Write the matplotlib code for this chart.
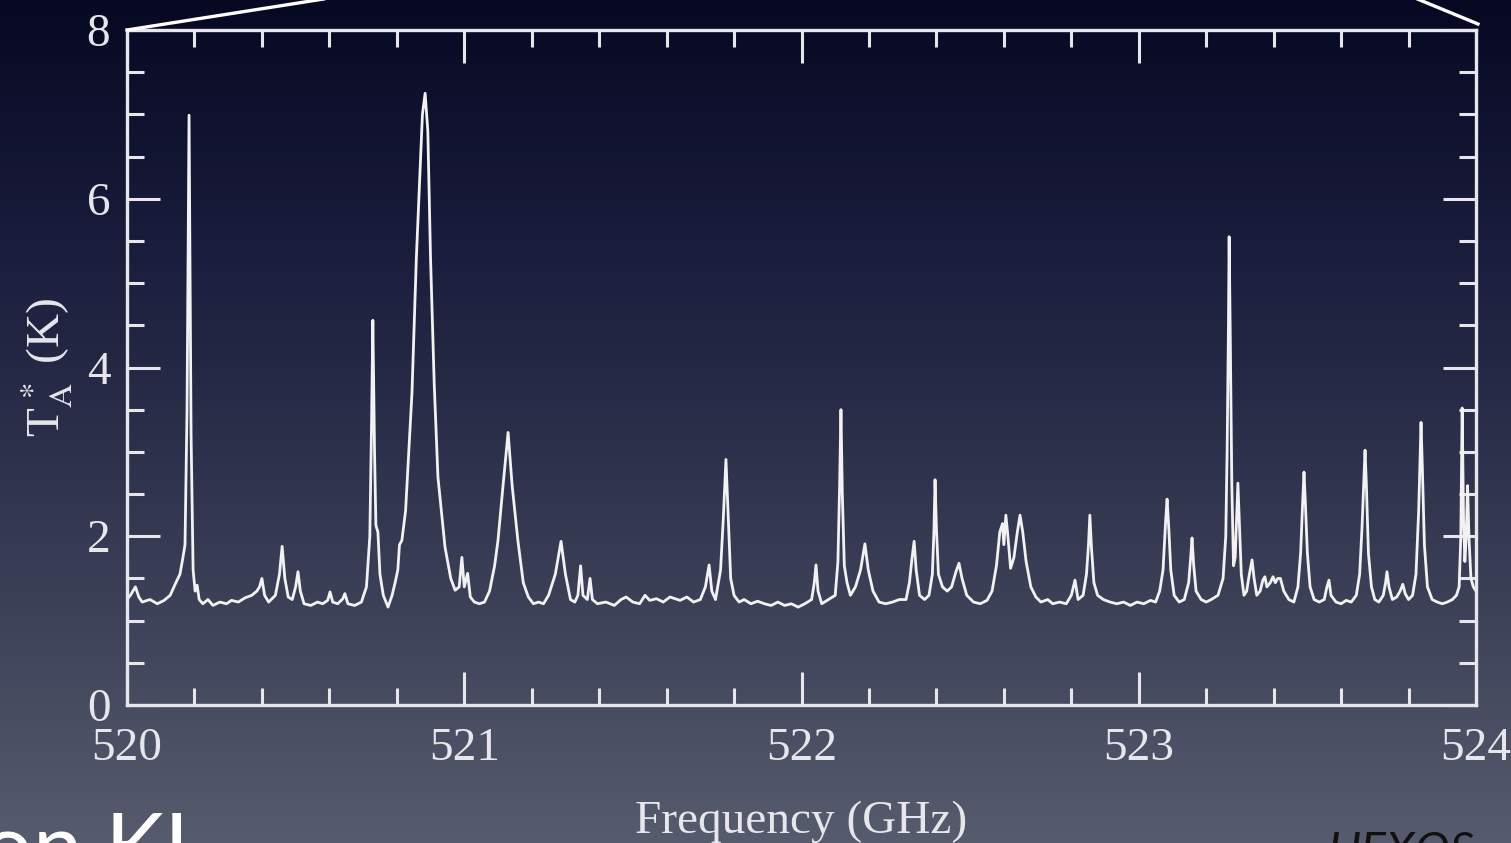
import matplotlib
matplotlib.use("Agg")
import matplotlib.pyplot as plt
import numpy as np
from matplotlib.lines import Line2D
from matplotlib.colors import LinearSegmentedColormap
from matplotlib.ticker import MultipleLocator

# spectrum (GHz, K)
freq = [
    520.000, 520.010, 520.025, 520.035, 520.045, 520.068, 520.090, 520.110, 520.128, 520.145,
    520.157, 520.166, 520.172, 520.178, 520.184, 520.190, 520.196, 520.202, 520.208, 520.214,
    520.225, 520.240, 520.255, 520.275, 520.295, 520.310, 520.330, 520.350, 520.370, 520.385,
    520.393, 520.400, 520.408, 520.420, 520.440, 520.452, 520.460, 520.468, 520.478, 520.490,
    520.500, 520.507, 520.514, 520.525, 520.545, 520.565, 520.580, 520.595, 520.602, 520.610,
    520.625, 520.640, 520.646, 520.655, 520.675, 520.695, 520.710, 520.720, 520.725, 520.729,
    520.734, 520.738, 520.744, 520.750, 520.760, 520.774, 520.786, 520.795, 520.803, 520.808,
    520.815, 520.826, 520.845, 520.858, 520.876, 520.884, 520.892, 520.900, 520.911, 520.922,
    520.943, 520.960, 520.973, 520.985, 520.993, 521.000, 521.010, 521.018, 521.030, 521.045,
    521.060, 521.075, 521.090, 521.100, 521.115, 521.130, 521.142, 521.159, 521.175, 521.190,
    521.205, 521.220, 521.235, 521.250, 521.270, 521.287, 521.300, 521.315, 521.328, 521.337,
    521.345, 521.352, 521.365, 521.373, 521.380, 521.395, 521.420, 521.445, 521.465, 521.480,
    521.500, 521.520, 521.536, 521.550, 521.570, 521.590, 521.610, 521.625, 521.640, 521.660,
    521.680, 521.700, 521.715, 521.726, 521.734, 521.745, 521.760, 521.768, 521.776, 521.783,
    521.790, 521.800, 521.815, 521.830, 521.850, 521.870, 521.890, 521.910, 521.930, 521.950,
    521.970, 521.990, 522.010, 522.030, 522.038, 522.043, 522.049, 522.060, 522.080, 522.100,
    522.108, 522.113, 522.117, 522.121, 522.127, 522.135, 522.145, 522.160, 522.175, 522.188,
    522.198, 522.212, 522.230, 522.250, 522.270, 522.290, 522.310, 522.320, 522.328, 522.334,
    522.340, 522.350, 522.365, 522.378, 522.388, 522.393, 522.396, 522.400, 522.406, 522.418,
    522.432, 522.445, 522.458, 522.467, 522.476, 522.490, 522.510, 522.530, 522.550, 522.565,
    522.578, 522.588, 522.596, 522.600, 522.606, 522.612, 522.620, 522.630, 522.640, 522.648,
    522.656, 522.666, 522.680, 522.695, 522.710, 522.730, 522.745, 522.765, 522.785, 522.800,
    522.811, 522.820, 522.835, 522.845, 522.851, 522.855, 522.860, 522.867, 522.878, 522.895,
    522.915, 522.935, 522.955, 522.975, 522.995, 523.015, 523.035, 523.050, 523.062, 523.072,
    523.076, 523.080, 523.084, 523.089, 523.095, 523.105, 523.120, 523.135, 523.148, 523.154,
    523.158, 523.163, 523.170, 523.185, 523.200, 523.215, 523.235, 523.250, 523.258, 523.262,
    523.266, 523.268, 523.271, 523.276, 523.281, 523.286, 523.290, 523.294, 523.298, 523.304,
    523.312, 523.320, 523.328, 523.336, 523.342, 523.350, 523.360, 523.368, 523.374, 523.380,
    523.390, 523.398, 523.405, 523.412, 523.420, 523.430, 523.445, 523.460, 523.472, 523.480,
    523.486, 523.490, 523.494, 523.500, 523.508, 523.520, 523.535, 523.550, 523.558, 523.564,
    523.570, 523.585, 523.600, 523.615, 523.630, 523.645, 523.655, 523.662, 523.668, 523.671,
    523.675, 523.681, 523.690, 523.700, 523.712, 523.725, 523.732, 523.736, 523.742, 523.752,
    523.765, 523.775, 523.783, 523.790, 523.800, 523.812, 523.822, 523.830, 523.834, 523.837,
    523.841, 523.847, 523.856, 523.870, 523.885, 523.900, 523.915, 523.930, 523.942, 523.950,
    523.955, 523.959, 523.963, 523.967, 523.971, 523.975, 523.979, 523.985, 523.992, 524.000,
]
temp = [
    1.25, 1.30, 1.40, 1.28, 1.22, 1.25, 1.20, 1.24, 1.30, 1.45,
    1.55, 1.75, 1.90, 3.50, 6.99, 3.20, 1.60, 1.35, 1.42, 1.25,
    1.20, 1.25, 1.18, 1.22, 1.20, 1.24, 1.22, 1.27, 1.30, 1.35,
    1.40, 1.50, 1.30, 1.22, 1.30, 1.55, 1.88, 1.50, 1.28, 1.25,
    1.40, 1.58, 1.35, 1.20, 1.18, 1.22, 1.20, 1.24, 1.34, 1.22,
    1.20, 1.26, 1.32, 1.20, 1.18, 1.22, 1.40, 2.00, 3.30, 4.56,
    3.00, 2.13, 2.05, 1.55, 1.30, 1.16, 1.30, 1.45, 1.60, 1.90,
    1.95, 2.30, 3.70, 5.30, 7.00, 7.25, 6.80, 5.30, 3.80, 2.70,
    1.87, 1.50, 1.36, 1.40, 1.75, 1.40, 1.56, 1.28, 1.22, 1.20,
    1.22, 1.35, 1.65, 1.95, 2.60, 3.23, 2.60, 1.95, 1.45, 1.28,
    1.20, 1.22, 1.20, 1.30, 1.55, 1.94, 1.55, 1.25, 1.22, 1.30,
    1.65, 1.30, 1.25, 1.50, 1.25, 1.20, 1.22, 1.18, 1.25, 1.28,
    1.22, 1.20, 1.30, 1.24, 1.26, 1.22, 1.28, 1.26, 1.24, 1.28,
    1.22, 1.25, 1.40, 1.66, 1.35, 1.25, 1.60, 2.20, 2.91, 2.20,
    1.50, 1.30, 1.22, 1.25, 1.20, 1.23, 1.20, 1.18, 1.22, 1.18,
    1.20, 1.16, 1.20, 1.25, 1.45, 1.66, 1.35, 1.20, 1.25, 1.30,
    1.70, 2.60, 3.50, 2.50, 1.65, 1.45, 1.30, 1.40, 1.60, 1.91,
    1.60, 1.35, 1.22, 1.20, 1.22, 1.25, 1.25, 1.45, 1.75, 1.94,
    1.60, 1.30, 1.25, 1.30, 1.55, 2.10, 2.67, 2.10, 1.55, 1.40,
    1.35, 1.40, 1.58, 1.68, 1.50, 1.30, 1.22, 1.20, 1.24, 1.35,
    1.65, 2.05, 2.15, 1.90, 2.25, 2.00, 1.62, 1.75, 2.05, 2.25,
    2.05, 1.70, 1.40, 1.28, 1.22, 1.25, 1.20, 1.22, 1.20, 1.30,
    1.48, 1.25, 1.30, 1.55, 1.90, 2.25, 1.85, 1.45, 1.30, 1.25,
    1.22, 1.20, 1.22, 1.18, 1.22, 1.20, 1.24, 1.22, 1.35, 1.60,
    1.90, 2.20, 2.44, 2.10, 1.60, 1.30, 1.22, 1.25, 1.45, 1.75,
    1.98, 1.65, 1.35, 1.25, 1.22, 1.25, 1.30, 1.50, 2.00, 3.00,
    4.50, 5.55, 4.50, 2.60, 1.65, 1.75, 2.20, 2.63, 2.20, 1.55,
    1.30, 1.35, 1.55, 1.72, 1.50, 1.30, 1.35, 1.48, 1.52, 1.40,
    1.45, 1.52, 1.45, 1.50, 1.50, 1.35, 1.25, 1.22, 1.40, 1.80,
    2.40, 2.76, 2.40, 1.80, 1.40, 1.25, 1.22, 1.25, 1.40, 1.48,
    1.30, 1.22, 1.20, 1.24, 1.22, 1.30, 1.55, 2.10, 2.70, 3.02,
    2.60, 1.80, 1.40, 1.25, 1.22, 1.30, 1.45, 1.58, 1.40, 1.25,
    1.28, 1.35, 1.43, 1.32, 1.25, 1.30, 1.55, 2.30, 2.90, 3.35,
    2.80, 1.90, 1.40, 1.25, 1.22, 1.20, 1.22, 1.25, 1.30, 1.40,
    2.00, 3.52, 2.20, 1.70, 2.00, 2.60, 2.00, 1.50, 1.40, 1.35,
]

x_ticks = [520, 521, 522, 523, 524]
y_ticks = [0, 2, 4, 6, 8]

plt.rcParams['font.family'] = ['Liberation Serif', 'DejaVu Serif']
plt.rcParams['mathtext.fontset'] = 'stix'

fg = '#e6e6ec'
fig = plt.figure(figsize=(15.11, 8.43), dpi=100)

# background gradient
bg = fig.add_axes([0, 0, 1, 1], zorder=-10)
cmap = LinearSegmentedColormap.from_list(
    'bg', [(0.0, '#070923'), (0.3, '#1a1d3c'), (0.6, '#32364f'), (1.0, '#565b6d')])
grad = np.linspace(0, 1, 256).reshape(-1, 1)
bg.imshow(grad, cmap=cmap, aspect='auto', extent=[0, 1, 1, 0])
bg.axis('off')

ax = fig.add_axes([127 / 1511, 1 - 705 / 843, 1349 / 1511, 675 / 843])
ax.patch.set_alpha(0)
ax.plot(freq, temp, color='#f2f2f2', lw=2.0, solid_joinstyle='round')

ax.set_xlim(520, 524)
ax.set_ylim(0, 8)
ax.set_xticks(x_ticks)
ax.set_yticks(y_ticks)
ax.xaxis.set_minor_locator(MultipleLocator(0.2))
ax.yaxis.set_minor_locator(MultipleLocator(0.5))
ax.tick_params(which='both', direction='in', top=True, right=True,
               color=fg, width=2.2, labelcolor=fg, labelsize=34)
ax.tick_params(axis='x', pad=16)
ax.tick_params(axis='y', pad=12)
ax.tick_params(which='major', length=24)
ax.tick_params(which='minor', length=12)
for s in ax.spines.values():
    s.set_color(fg)
    s.set_linewidth(2.4)

ax.set_xlabel('Frequency (GHz)', color=fg, fontsize=34, labelpad=22)
ax.set_ylabel(r'T$_\mathrm{A}^{\,*}$ (K)', color=fg, fontsize=34, labelpad=8)

# zoom-connector lines from the slide
fig.add_artist(Line2D([127 / 1511, 330 / 1511], [1 - 30 / 843, 1 + 2 / 843],
                      color='white', lw=2.4))
fig.add_artist(Line2D([1478 / 1511, 1415 / 1511], [1 - 24 / 843, 1 + 2 / 843],
                      color='white', lw=2.4))

# cropped slide text
fig.text(210 / 1511, -0.04, 'Orion KL', color='white', fontsize=64,
         family=['Lato', 'DejaVu Sans'], ha='right', va='baseline')
fig.text(1328 / 1511, -0.026, 'HEXOS', color='#111111', fontsize=34,
         family=['Lato', 'DejaVu Sans'], style='italic', ha='left', va='baseline')

fig.savefig('out.png', dpi=100)
